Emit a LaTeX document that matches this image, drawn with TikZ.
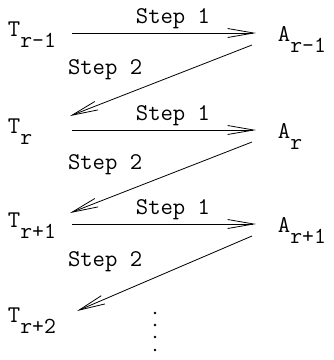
\documentclass[tikz,border=0pt]{standalone}
\usepackage{fontspec}
\usepackage{tikz}
\usetikzlibrary{arrows.meta}

\newcommand{\lowsub}[1]{\raisebox{-11pt}{\fontsize{23}{25}\selectfont #1}}

\tikzset{
  lbl/.style={font=\ttfamily\fontsize{24}{27}\selectfont, inner sep=0pt, outer sep=0pt},
  tnode/.style={lbl, anchor=base west, text width=60pt, align=left},
  anode/.style={lbl, anchor=base west},
  stepone/.style={-{Straight Barb[length=26pt,width=9pt]}, line width=0.8pt, shorten <=4pt, shorten >=22pt},
  steptwo/.style={-{Straight Barb[length=26pt,width=9pt]}, line width=0.8pt}
}

\begin{document}
\begin{tikzpicture}[x=1pt, y=1pt]
  \useasboundingbox (0,0) rectangle (334,-360);
  % left column
  \node[tnode] (t1) at (8,-36) {T\lowsub{r-1}};
  \node[tnode] (t2) at (8,-133) {T\lowsub{r}};
  \node[tnode] (t3) at (8,-227) {T\lowsub{r+1}};
  \node[tnode] (t4) at (8,-322) {T\lowsub{r+2}};
  % right column
  \node[anode] (a1) at (278,-41) {A\lowsub{r-1}};
  \node[anode] (a2) at (278,-138) {A\lowsub{r}};
  \node[anode] (a3) at (278,-232) {A\lowsub{r+1}};
  % step 1
  \draw[stepone] ([yshift=3pt]t1.base east) -- ([yshift=8pt]a1.base west)
    node[lbl, midway, above=4pt] (s1a) {Step 1};
  \draw[stepone] ([yshift=3pt]t2.base east) -- ([yshift=8pt]a2.base west)
    node[lbl, midway, above=4pt] (s1b) {Step 1};
  \draw[stepone] ([yshift=3pt]t3.base east) -- ([yshift=8pt]a3.base west)
    node[lbl, midway, above=4pt] (s1c) {Step 1};
  % step 2
  \draw[steptwo] ([shift={(-26pt,-4pt)}]a1.base west) -- ([shift={(2pt,17pt)}]t2.base east);
  \draw[steptwo] ([shift={(-26pt,-4pt)}]a2.base west) -- ([shift={(2pt,14pt)}]t3.base east);
  \draw[steptwo] ([shift={(-26pt,-4pt)}]a3.base west) -- ([shift={(9pt,11pt)}]t4.base east);
  \node[lbl, anchor=base west] (s2a) at ([yshift=-38pt]t1.base east) {Step 2};
  \node[lbl, anchor=base west] (s2b) at ([yshift=-36pt]t2.base east) {Step 2};
  \node[lbl, anchor=base west] (s2c) at ([yshift=-39pt]t3.base east) {Step 2};
  % continuation dots
  \foreach \yy in {313,325,337,350}
    \fill (155,-\yy) circle (1.3pt);
\end{tikzpicture}
\end{document}
